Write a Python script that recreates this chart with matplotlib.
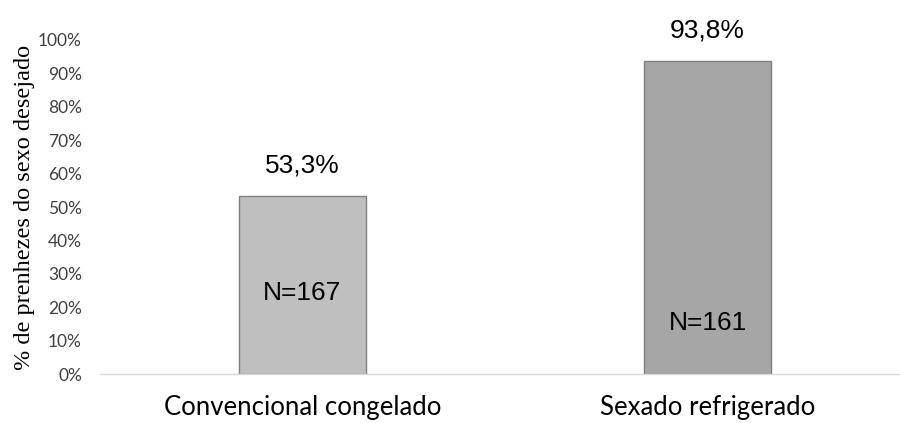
import matplotlib
matplotlib.use("Agg")
import matplotlib.pyplot as plt
from matplotlib.ticker import FuncFormatter

# Pregnancy rates for the desired sex, by semen type
categories = ["Convencional congelado", "Sexado refrigerado"]
rates = [53.3, 93.8]
n_counts = [167, 161]
bar_colors = ["#BFBFBF", "#A6A6A6"]
n_heights = [24.3, 15.3]  # % position of the N labels

fig = plt.figure(figsize=(9, 4.23), dpi=100)
ax = fig.add_axes([100 / 900, 49 / 423, 800 / 900, 334 / 423])

x = range(len(categories))
bars = ax.bar(x, rates, width=0.314, color=bar_colors, edgecolor="#7F7F7F", linewidth=1, zorder=2)

for b, r in zip(bars, rates):
    ax.annotate(f"{r:.1f}%".replace(".", ","), (b.get_x() + b.get_width() / 2, r),
                xytext=(0, 17), textcoords="offset points", ha="center", va="baseline",
                fontsize=19, family="Liberation Sans")

for i, (n, h) in enumerate(zip(n_counts, n_heights)):
    ax.text(i, h, f"N={n}", ha="center", va="center", fontsize=19, family="Liberation Sans")

ax.set_xlim(-0.5, 1.475)
ax.set_ylim(0, 100)
ax.set_yticks(range(0, 101, 10))
ax.yaxis.set_major_formatter(FuncFormatter(lambda v, p: f"{v:.0f}%"))
ax.set_xticks(list(x))
ax.set_xticklabels(categories, fontsize=18.5, family="Lato")
for t in ax.get_yticklabels():
    t.set_fontsize(12.5)
    t.set_family("Lato")
    t.set_color("#404040")
ax.tick_params(axis="both", length=0)
ax.tick_params(axis="x", pad=15)
ax.tick_params(axis="y", pad=13)

for s in ["top", "right", "left"]:
    ax.spines[s].set_visible(False)
ax.spines["bottom"].set_color("#D9D9D9")
ax.spines["bottom"].set_linewidth(1)

ax.set_ylabel("% de prenhezes do sexo desejado", fontsize=17.5, family="Liberation Serif", labelpad=2)

fig.savefig("out.png", dpi=100)
